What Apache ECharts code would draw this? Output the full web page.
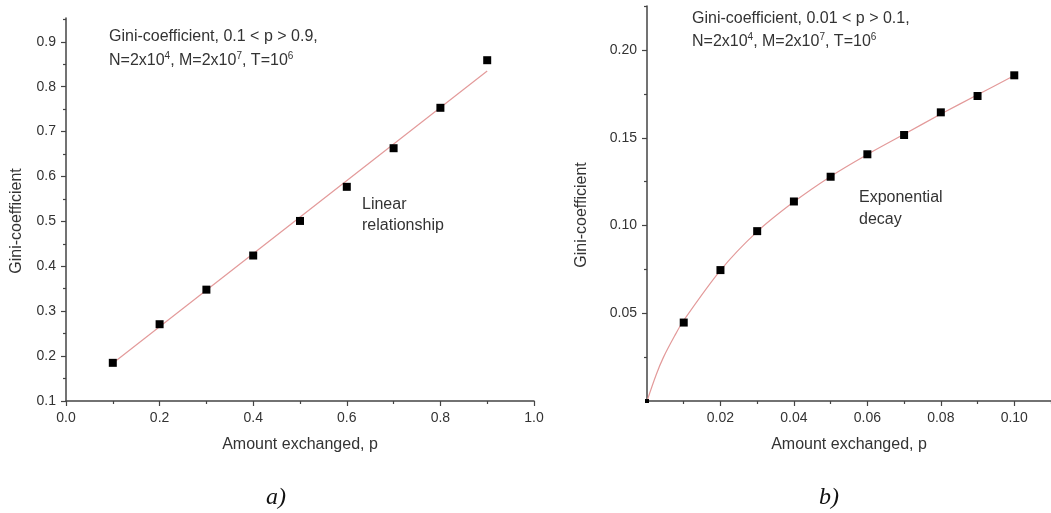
<!DOCTYPE html>
<html>
<head>
<meta charset="utf-8">
<script src="https://cdn.jsdelivr.net/npm/echarts@6/dist/echarts.min.js"></script>
<style>
  html, body { margin: 0; padding: 0; background: #fff; }
  #chart { width: 1051px; height: 513px; overflow: hidden; }
</style>
</head>
<body>
<div id="chart"></div>
<script>
// panel a) - linear
const leftX = [0.1, 0.2, 0.3, 0.4, 0.5, 0.6, 0.7, 0.8, 0.9];
const leftY = [0.185, 0.271, 0.348, 0.424, 0.501, 0.577, 0.663, 0.753, 0.859];
const leftFitX = [0.1, 0.9];
const leftFitY = [0.184, 0.835];
const leftXTicks = [0, 0.2, 0.4, 0.6, 0.8, 1.0];
const leftYTicks = [0.1, 0.2, 0.3, 0.4, 0.5, 0.6, 0.7, 0.8, 0.9];

// panel b) - exponential decay
const rightX = [0, 0.01, 0.02, 0.03, 0.04, 0.05, 0.06, 0.07, 0.08, 0.09, 0.10];
const rightY = [0, 0.0447, 0.0746, 0.0968, 0.1137, 0.1278, 0.1406, 0.1516, 0.1645, 0.1738, 0.1856];
const rightFitX = [0, 0.0025, 0.0045, 0.0075, 0.01, 0.02, 0.03, 0.04, 0.05, 0.06, 0.07, 0.08, 0.09, 0.10];
const rightFitY = [0, 0.015, 0.025, 0.037, 0.046, 0.0745, 0.0965, 0.1135, 0.128, 0.1405, 0.152, 0.1635, 0.1745, 0.1855];
const rightXTicks = [0.02, 0.04, 0.06, 0.08, 0.10];
const rightYTicks = [0.05, 0.10, 0.15, 0.20];

const FONT = '"Liberation Sans", Arial, sans-serif';
const AXIS_COLOR = '#444';
const TEXT_COLOR = '#333';
const FIT_COLOR = '#e39a9a';
const NOTE_FONT = '16px ' + FONT;

const zip = (xs, ys) => xs.map((x, i) => [x, ys[i]]);

// minor ticks halfway between the major ones
function minors(ticks, min, max) {
    const step = ticks[1] - ticks[0];
    const out = [];
    const first = +(ticks[0] - step / 2).toFixed(6);
    if (first >= min) out.push(first);
    ticks.forEach(t => {
        const m = +(t + step / 2).toFixed(6);
        if (m <= max) out.push(m);
    });
    return out;
}

function mainAxis(grid, pos, min, max, ticks, digits, extra) {
    return Object.assign({
        type: 'value',
        gridIndex: grid,
        position: pos,
        min: min,
        max: max,
        splitLine: {show: false},
        axisLine: {show: true, onZero: false, lineStyle: {color: AXIS_COLOR, width: 1.5}},
        axisTick: {show: true, inside: false, length: 5, customValues: ticks,
            lineStyle: {color: AXIS_COLOR, width: 1.2}},
        axisLabel: {customValues: ticks, margin: 10, color: TEXT_COLOR, fontSize: 14,
            fontFamily: FONT, formatter: v => v.toFixed(digits)}
    }, extra || {});
}

function minorAxis(grid, pos, min, max, ticks) {
    return {
        type: 'value',
        gridIndex: grid,
        position: pos,
        offset: 0,
        min: min,
        max: max,
        splitLine: {show: false},
        axisLine: {show: false, onZero: false},
        axisTick: {show: true, inside: false, length: 3, customValues: minors(ticks, min, max),
            lineStyle: {color: AXIS_COLOR, width: 1.2}},
        axisLabel: {show: false}
    };
}

const xName = {
    name: 'Amount exchanged, p',
    nameLocation: 'middle',
    nameGap: 36,
    nameTextStyle: {color: TEXT_COLOR, fontSize: 16, fontFamily: FONT}
};

// "N=2x10^4, M=2x10^7, T=10^6" with raised exponents
const paramsText = {
    text: '{n|N=2x10}{s|4}{n|, M=2x10}{s|7}{n|, T=10}{s|6}',
    verticalAlign: 'middle',
    rich: {
        n: {fill: TEXT_COLOR, font: NOTE_FONT, lineHeight: 20},
        s: {fill: TEXT_COLOR, font: '10px ' + FONT, lineHeight: 20, verticalAlign: 'top'}
    }
};

const chart = echarts.init(document.getElementById('chart'));

const option = {
    animation: false,
    backgroundColor: '#fff',
    grid: [
        {left: 66, top: 18, width: 468, height: 383},
        {left: 647, top: 6, width: 409, height: 395}
    ],
    xAxis: [
        mainAxis(0, 'bottom', 0, 1.0, leftXTicks, 1, xName),
        minorAxis(0, 'bottom', 0, 1.0, leftXTicks),
        mainAxis(1, 'bottom', 0, 0.11, rightXTicks, 2, xName),
        minorAxis(1, 'bottom', 0, 0.11, rightXTicks)
    ],
    yAxis: [
        mainAxis(0, 'left', 0.1, 0.953, leftYTicks, 1),
        minorAxis(0, 'left', 0.1, 0.953, leftYTicks),
        mainAxis(1, 'left', 0, 0.2251, rightYTicks, 2),
        minorAxis(1, 'left', 0, 0.2251, rightYTicks)
    ],
    series: [
        {
            type: 'line',
            xAxisIndex: 0, yAxisIndex: 0,
            data: zip(leftFitX, leftFitY),
            showSymbol: false,
            lineStyle: {color: FIT_COLOR, width: 1.2},
            z: 2
        },
        {
            type: 'scatter',
            xAxisIndex: 0, yAxisIndex: 0,
            data: zip(leftX, leftY),
            symbol: 'rect',
            symbolSize: 8,
            itemStyle: {color: '#000', opacity: 1},
            z: 3
        },
        {
            type: 'line',
            xAxisIndex: 2, yAxisIndex: 2,
            data: zip(rightFitX, rightFitY),
            smooth: 0.3,
            showSymbol: false,
            lineStyle: {color: FIT_COLOR, width: 1.2},
            z: 2
        },
        {
            type: 'scatter',
            xAxisIndex: 2, yAxisIndex: 2,
            data: zip(rightX, rightY),
            symbol: 'rect',
            symbolSize: v => (v[0] === 0 ? 4 : 8),
            itemStyle: {color: '#000', opacity: 1},
            z: 3
        }
    ],
    graphic: [
        // y axis names
        {type: 'text', x: 17, y: 221, rotation: Math.PI / 2,
            style: {text: 'Gini-coefficient', fill: TEXT_COLOR, font: NOTE_FONT,
                align: 'center', verticalAlign: 'middle'}},
        {type: 'text', x: 582, y: 215, rotation: Math.PI / 2,
            style: {text: 'Gini-coefficient', fill: TEXT_COLOR, font: NOTE_FONT,
                align: 'center', verticalAlign: 'middle'}},
        // annotations, panel a
        {type: 'text', x: 109, y: 37,
            style: {text: 'Gini-coefficient, 0.1 < p > 0.9,', fill: TEXT_COLOR, font: NOTE_FONT,
                verticalAlign: 'middle'}},
        Object.assign({type: 'text', x: 109, y: 61}, {style: paramsText}),
        {type: 'text', x: 362, y: 205,
            style: {text: 'Linear', fill: TEXT_COLOR, font: NOTE_FONT, verticalAlign: 'middle'}},
        {type: 'text', x: 362, y: 226,
            style: {text: 'relationship', fill: TEXT_COLOR, font: NOTE_FONT, verticalAlign: 'middle'}},
        // annotations, panel b
        {type: 'text', x: 692, y: 19,
            style: {text: 'Gini-coefficient, 0.01 < p > 0.1,', fill: TEXT_COLOR, font: NOTE_FONT,
                verticalAlign: 'middle'}},
        Object.assign({type: 'text', x: 692, y: 42}, {style: paramsText}),
        {type: 'text', x: 859, y: 198,
            style: {text: 'Exponential', fill: TEXT_COLOR, font: NOTE_FONT, verticalAlign: 'middle'}},
        {type: 'text', x: 859, y: 220,
            style: {text: 'decay', fill: TEXT_COLOR, font: NOTE_FONT, verticalAlign: 'middle'}},
        // panel captions
        {type: 'text', x: 276, y: 498,
            style: {text: 'a)', fill: '#111', font: 'italic 24px "Liberation Serif", "Times New Roman", serif',
                align: 'center', verticalAlign: 'middle'}},
        {type: 'text', x: 829, y: 498,
            style: {text: 'b)', fill: '#111', font: 'italic 24px "Liberation Serif", "Times New Roman", serif',
                align: 'center', verticalAlign: 'middle'}}
    ]
};

chart.setOption(option);
</script>
</body>
</html>
